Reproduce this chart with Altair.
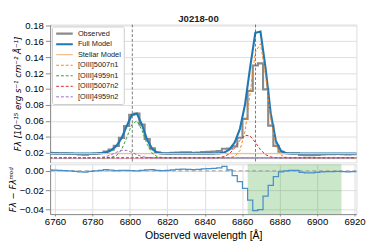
import altair as alt
import pandas as pd

# wavelength grid (bin centres, Angstrom)
lam = [6757.00, 6759.75, 6762.50, 6765.25, 6768.00, 6770.75, 6773.50, 6776.25, 6779.00, 6781.75,
       6784.50, 6787.25, 6790.00, 6792.75, 6795.50, 6798.25, 6801.00, 6803.75, 6806.50, 6809.25,
       6812.00, 6814.75, 6817.50, 6820.25, 6823.00, 6825.75, 6828.50, 6831.25, 6834.00, 6836.75,
       6839.50, 6842.25, 6845.00, 6847.75, 6850.50, 6853.25, 6856.00, 6858.75, 6861.50, 6864.25,
       6867.00, 6869.75, 6872.50, 6875.25, 6878.00, 6880.75, 6883.50, 6886.25, 6889.00, 6891.75,
       6894.50, 6897.25, 6900.00, 6902.75, 6905.50, 6908.25, 6911.00, 6913.75, 6916.50, 6919.25,
       6922.00]

observed = [0.0200, 0.0198, 0.0195, 0.0193, 0.0190, 0.0185, 0.0180, 0.0178, 0.0185, 0.0191,
            0.0199, 0.0217, 0.0240, 0.0288, 0.0388, 0.0537, 0.0678, 0.0693, 0.0554, 0.0374,
            0.0258, 0.0208, 0.0194, 0.0194, 0.0200, 0.0205, 0.0208, 0.0206, 0.0202, 0.0205,
            0.0210, 0.0212, 0.0216, 0.0224, 0.0251, 0.0254, 0.0281, 0.0389, 0.0626, 0.0977,
            0.1297, 0.1323, 0.0997, 0.0542, 0.0288, 0.0213, 0.0195, 0.0195, 0.0195, 0.0175,
            0.0170, 0.0170, 0.0175, 0.0180, 0.0182, 0.0182, 0.0185, 0.0182, 0.0180, 0.0182,
            0.0182]

full_model = [0.0190, 0.0190, 0.0190, 0.0190, 0.0190, 0.0190, 0.0190, 0.0190, 0.0190, 0.0191,
              0.0194, 0.0205, 0.0232, 0.0285, 0.0382, 0.0533, 0.0676, 0.0693, 0.0549, 0.0364,
              0.0246, 0.0202, 0.0192, 0.0190, 0.0190, 0.0190, 0.0190, 0.0190, 0.0190, 0.0190,
              0.0190, 0.0190, 0.0191, 0.0194, 0.0206, 0.0244, 0.0331, 0.0499, 0.0806, 0.1277,
              0.1707, 0.1723, 0.1257, 0.0692, 0.0348, 0.0223, 0.0195, 0.0190, 0.0190, 0.0190,
              0.0190, 0.0190, 0.0190, 0.0190, 0.0190, 0.0190, 0.0190, 0.0190, 0.0190, 0.0190,
              0.0190]

stellar_model = [0.0190] * 61

# line components: height above their common baseline
comp_baseline = 0.0138
o5007n1 = [0, 0, 0, 0, 0, 0, 0, 0, 0, 0,
           0, 0, 0, 0, 0, 0, 0, 0, 0, 0,
           0, 0, 0, 0, 0, 0, 0, 0, 0, 0,
           0, 0, 0, 0, 0, 0.0002, 0.0016, 0.0090, 0.0332, 0.0814,
           0.1324, 0.1432, 0.1028, 0.0491, 0.0156, 0.0033, 0.0005, 0, 0, 0,
           0, 0, 0, 0, 0, 0, 0, 0, 0, 0,
           0]
o4959n1 = [0, 0, 0, 0, 0, 0, 0, 0, 0, 0,
           0, 0, 0.0005, 0.0026, 0.0099, 0.0249, 0.0417, 0.0465, 0.0344, 0.0169,
           0.0055, 0.0012, 0.0002, 0, 0, 0, 0, 0, 0, 0,
           0, 0, 0, 0, 0, 0, 0, 0, 0, 0,
           0, 0, 0, 0, 0, 0, 0, 0, 0, 0,
           0, 0, 0, 0, 0, 0, 0, 0, 0, 0,
           0]
o5007n2 = [0, 0, 0, 0, 0, 0, 0, 0, 0, 0,
           0, 0, 0, 0, 0, 0, 0, 0, 0, 0,
           0, 0, 0, 0, 0, 0, 0, 0, 0, 0,
           0, 0, 0.0001, 0.0004, 0.0016, 0.0052, 0.0125, 0.0219, 0.0284, 0.0273,
           0.0193, 0.0101, 0.0039, 0.0011, 0.0002, 0, 0, 0, 0, 0,
           0, 0, 0, 0, 0, 0, 0, 0, 0, 0,
           0]
o4959n2 = [0, 0, 0, 0, 0, 0, 0, 0, 0, 0.0001,
           0.0004, 0.0015, 0.0037, 0.0069, 0.0093, 0.0094, 0.0069, 0.0038, 0.0015, 0.0005,
           0.0001, 0, 0, 0, 0, 0, 0, 0, 0, 0,
           0, 0, 0, 0, 0, 0, 0, 0, 0, 0,
           0, 0, 0, 0, 0, 0, 0, 0, 0, 0,
           0, 0, 0, 0, 0, 0, 0, 0, 0, 0,
           0]

flat_level = 0.0128
oiii_centres = [6801.3, 6867.1]
fit_window = [6862.9, 6913.0]
chart_title = ["J0218-00"]

series_names = ["Observed", "Full Model", "Stellar Model", "[OIII]5007n1",
                "[OIII]4959n1", "[OIII]5007n2", "[OIII]4959n2"]
series_colors = ["#8a8a8a", "#1f77b4", "#f2c08e", "#ff7f0e", "#2ca02c", "#d62728", "#9467bd"]
series_widths = [2.2, 2.2, 1.3, 1.0, 1.0, 1.0, 1.0]
series_dash = [[1, 0], [1, 0], [1, 0], [3, 2], [3, 2], [3, 2], [3, 2]]

x_domain = [6757.4, 6921.0]
x_ticks = [6760, 6780, 6800, 6820, 6840, 6860, 6880, 6900, 6920]
y_top_ticks = [0.02, 0.04, 0.06, 0.08, 0.10, 0.12, 0.14, 0.16, 0.18]
y_bot_ticks = [0.00, -0.02, -0.04]

FONT = "Liberation Sans"
TFONT = "DejaVu Sans"

# ---- long table
rows = []
comps = {"[OIII]5007n1": o5007n1, "[OIII]4959n1": o4959n1,
         "[OIII]5007n2": o5007n2, "[OIII]4959n2": o4959n2}
for i, l in enumerate(lam):
    rows.append({"lam": l, "flux": observed[i], "series": "Observed"})
    rows.append({"lam": l, "flux": full_model[i], "series": "Full Model"})
    rows.append({"lam": l, "flux": stellar_model[i], "series": "Stellar Model"})
    for name, vals in comps.items():
        rows.append({"lam": l, "flux": comp_baseline + vals[i], "series": name})
df = pd.DataFrame(rows)

resid = pd.DataFrame({"lam": lam,
                      "res": [round(o - m, 4) for o, m in zip(observed, full_model)]})

xscale = alt.Scale(domain=x_domain, nice=False, zero=False)
ytop_scale = alt.Scale(domain=[0.008, 0.181], nice=False, zero=False)
ybot_scale = alt.Scale(domain=[-0.0445, 0.0067], nice=False, zero=False)

ytop_axis = alt.Axis(values=y_top_ticks, format=".2f", labelOverlap=False,
                     title="Fλ [10⁻¹⁵ erg s⁻¹ cm⁻² Å⁻¹]", titleFont=TFONT,
                     titleFontSize=9, titleFontStyle="italic", titleFontWeight="normal",
                     titlePadding=2)
ybot_axis = alt.Axis(values=y_bot_ticks, labelOverlap=False,
                     labelExpr="replace(format(datum.value, '.2f'), '-', '−')",
                     title="Fλ − Fλᵐᵒᵈ", titleFont=TFONT, titleFontSize=9,
                     titleFontStyle="italic", titleFontWeight="normal", titlePadding=2)
xbot_axis = alt.Axis(values=x_ticks, format="d", title="Observed wavelength [Å]",
                     titleFontWeight="normal", labelOverlap=False, labelFlush=False,
                     tickSize=2, labelPadding=0.5, titlePadding=4)

legend = alt.Legend(orient="top-left", title=None, offset=2, fillColor="white",
                    strokeColor="#cccccc", padding=3, cornerRadius=2,
                    labelFont=FONT, labelFontSize=7.7, labelColor="#222222",
                    symbolType="stroke", symbolSize=300, clipHeight=9, rowPadding=2,
                    labelOffset=4)

base = alt.Chart(df).encode(
    x=alt.X("lam:Q", scale=xscale, axis=None),
    y=alt.Y("flux:Q", scale=ytop_scale, axis=ytop_axis),
    color=alt.Color("series:N", scale=alt.Scale(domain=series_names, range=series_colors),
                    legend=legend),
    strokeDash=alt.StrokeDash("series:N", scale=alt.Scale(domain=series_names, range=series_dash),
                              legend=legend),
    strokeWidth=alt.StrokeWidth("series:N",
                                scale=alt.Scale(type="ordinal", domain=series_names, range=series_widths),
                                legend=legend),
)

flat = alt.Chart(pd.DataFrame({"y": [flat_level]})).mark_rule(
    color="#9467bd", strokeWidth=0.8, opacity=0.7).encode(
    y=alt.Y("y:Q", scale=ytop_scale, axis=ytop_axis))
obs = base.transform_filter(alt.datum.series == "Observed").mark_line(interpolate="step", clip=True)
full = base.transform_filter(alt.datum.series == "Full Model").mark_line(clip=True)
stel = base.transform_filter(alt.datum.series == "Stellar Model").mark_line(clip=True)
comp = base.transform_filter(
    alt.FieldOneOfPredicate(field="series", oneOf=list(comps.keys()))).mark_line(clip=True)
vlines = alt.Chart(pd.DataFrame({"lam": oiii_centres})).mark_rule(
    color="#555555", strokeDash=[3, 2], strokeWidth=0.8).encode(
    x=alt.X("lam:Q", scale=xscale, axis=None))
title_txt = alt.Chart(pd.DataFrame({"t": chart_title})).mark_text(
    font=FONT, fontSize=10, fontWeight="bold", color="#222222",
    align="center", baseline="bottom").encode(
    x=alt.value(155), y=alt.value(-1), text="t:N")

top = alt.layer(flat, obs, full, stel, comp, vlines, title_txt).properties(
    width=320, height=144)

win = alt.Chart(pd.DataFrame({"x1": [fit_window[0]], "x2": [fit_window[1]]})).mark_rect(
    color="#2ca02c", opacity=0.25).encode(x=alt.X("x1:Q", scale=xscale, axis=xbot_axis), x2="x2:Q")
zero = alt.Chart(pd.DataFrame({"y": [0.0]})).mark_rule(
    color="#999999", strokeDash=[4, 3], strokeWidth=1).encode(
    y=alt.Y("y:Q", scale=ybot_scale, axis=ybot_axis))
res_line = alt.Chart(resid).mark_line(interpolate="step", clip=True, color="#4a8fc7",
                                      strokeWidth=1.3).encode(
    x=alt.X("lam:Q", scale=xscale, axis=xbot_axis),
    y=alt.Y("res:Q", scale=ybot_scale, axis=ybot_axis),
)
bottom = alt.layer(win, zero, res_line).properties(width=320, height=52)

chart = alt.vconcat(top, bottom, spacing=2, bounds="flush").properties(
    padding={"left": 0, "top": 0, "right": 0, "bottom": 0}
).configure_view(
    stroke="#aaaaaa", strokeWidth=1
).configure_axis(
    labelFont=FONT, labelFontSize=7.7, labelColor="#222222",
    titleFont=FONT, titleFontSize=10.5, titleFontWeight="normal", titleColor="#222222",
    tickColor="#888888", tickSize=3, domain=False, grid=False, labelPadding=1.5
).configure(background="white")

chart.save("out.html", embed_options={"renderer": "svg", "actions": False})
